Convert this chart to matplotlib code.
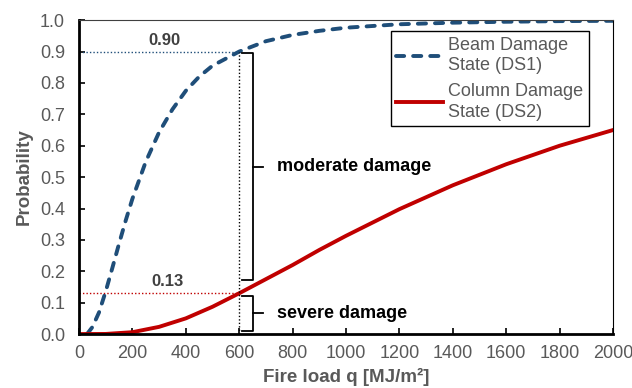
import matplotlib
matplotlib.use("Agg")
import matplotlib.pyplot as plt

plt.rcParams["font.family"] = ["Liberation Sans", "DejaVu Sans"]

# values
beam_q = [30, 50, 75, 100, 125, 150, 175, 200, 250, 300, 350, 400, 450, 500,
          600, 700, 800, 900, 1000, 1200, 1400, 1600, 1800, 2000]
beam_p = [0.0, 0.022, 0.069, 0.136, 0.211, 0.288, 0.362, 0.431, 0.549, 0.643,
          0.716, 0.775, 0.82, 0.855, 0.90, 0.933, 0.953, 0.966, 0.976, 0.987,
          0.992, 0.995, 0.997, 0.998]
col_q = [0, 100, 200, 300, 400, 500, 600, 700, 800, 900, 1000, 1200, 1400,
         1600, 1800, 2000]
col_p = [0.0, 0.0004, 0.006, 0.023, 0.05, 0.087, 0.13, 0.175, 0.22, 0.268,
         0.313, 0.398, 0.474, 0.541, 0.60, 0.65]

q_mark = 600
p_ds1 = 0.90
p_ds2 = 0.13

blue = "#1F4E79"
red = "#C00000"
grey = "#595959"

fig = plt.figure(figsize=(6.32, 3.88), dpi=100)
ax = fig.add_axes([0.125, 0.139, 0.845, 0.809])

ax.plot(beam_q, beam_p, color=blue, lw=2.8, dashes=(2.1, 2.3),
        dash_capstyle="round", label="Beam Damage\nState (DS1)")
ax.plot(col_q, col_p, color=red, lw=2.8, label="Column Damage\nState (DS2)")

# guide lines at q = 600
ax.plot([0, q_mark], [p_ds1, p_ds1], color=blue, lw=1.0, ls=(0, (1, 1.5)))
ax.plot([0, q_mark], [p_ds2, p_ds2], color=red, lw=1.0, ls=(0, (1, 1.5)))
ax.plot([q_mark, q_mark], [0, p_ds1], color="black", lw=1.0, ls=(0, (1, 1.5)))
ax.text(320, 0.912, f"{p_ds1:.2f}", color="#404040", fontsize=12,
        fontweight="bold", ha="center", va="bottom")
ax.text(330, 0.142, f"{p_ds2:.2f}", color="#404040", fontsize=12,
        fontweight="bold", ha="center", va="bottom")

# brackets
def bracket(y0, y1, x=652, x_in=612, x_out=688):
    ym = (y0 + y1) / 2
    ax.plot([x_in, x, x, x_in], [y1, y1, y0, y0], color="black", lw=1.3)
    ax.plot([x, x_out], [ym, ym], color="black", lw=1.3)
    return ym

ym1 = bracket(0.172, 0.895)
ym2 = bracket(0.01, 0.122)
ax.text(742, ym1, "moderate damage", fontsize=13, fontweight="bold",
        va="center", ha="left")
ax.text(742, ym2, "severe damage", fontsize=13, fontweight="bold",
        va="center", ha="left")

ax.set_xlim(0, 2000)
ax.set_ylim(0, 1.0)
ax.set_xticks(range(0, 2001, 200))
ax.set_yticks([i / 10 for i in range(11)])
ax.yaxis.set_major_formatter(matplotlib.ticker.FormatStrFormatter("%.1f"))
ax.tick_params(direction="in", labelcolor=grey, labelsize=13, length=4,
               width=1.2)
ax.tick_params(axis="x", pad=8)
ax.tick_params(axis="y", pad=10)

for side in ("left", "bottom"):
    ax.spines[side].set_linewidth(2.0)
    ax.spines[side].set_color("black")
ax.spines["top"].set_linewidth(0.8)
ax.spines["top"].set_color("#404040")
ax.spines["right"].set_linewidth(0.8)
ax.spines["right"].set_color("black")

ax.set_xlabel("Fire load q [MJ/m²]", color=grey, fontsize=13.5,
              fontweight="bold", labelpad=4)
ax.set_ylabel("Probability", color=grey, fontsize=13.5, fontweight="bold",
              labelpad=5)

leg = ax.legend(loc="upper right", bbox_to_anchor=(0.955, 0.965),
                fontsize=13, labelcolor=grey, fancybox=False, framealpha=1,
                edgecolor="black", handlelength=2.6, handletextpad=0.3,
                borderpad=0.3, labelspacing=0.45, borderaxespad=0)
for t in leg.get_texts():
    t.set_linespacing(1.3)
leg.get_frame().set_linewidth(1.0)

fig.savefig("out.png", dpi=100)
